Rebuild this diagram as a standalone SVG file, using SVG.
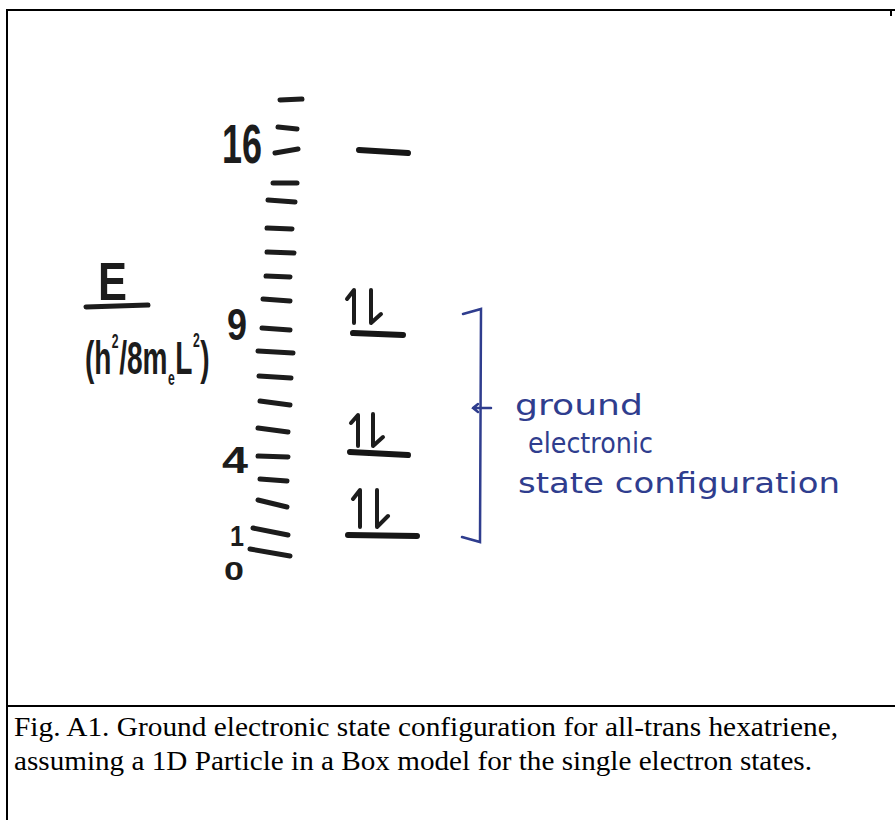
<svg xmlns="http://www.w3.org/2000/svg" width="895" height="820" viewBox="0 0 895 820">
  <style>
    .frame { stroke: #000; stroke-width: 2; fill: none; }
    .tick { stroke: #1c1c1c; stroke-width: 5; stroke-linecap: round; fill: none; }
    .level { stroke: #161616; stroke-width: 6; stroke-linecap: round; fill: none; }
    .spin { stroke: #1c1c1c; stroke-width: 4; stroke-linecap: round; stroke-linejoin: round; fill: none; }
    .hand { font-family: "Liberation Sans", "DejaVu Sans", sans-serif; fill: #1c1c1c; font-weight: bold; }
    .formula { font-family: "Liberation Sans", "DejaVu Sans", sans-serif; fill: #1c1c1c; font-weight: bold; font-size: 46px; }
    .small { font-size: 20px; }
    .blue { stroke: #2f3d8e; stroke-width: 2.5; stroke-linecap: round; fill: none; }
    .bluetext { font-family: "DejaVu Sans", "Liberation Sans", sans-serif; fill: #2f3d8e; font-size: 28px; }
    .caption { font-family: "Liberation Serif", "Times New Roman", serif; font-size: 28px; fill: #000; }
  </style>
  <rect width="895" height="820" fill="#ffffff"/>

  <g id="frame">
    <line class="frame" x1="6" y1="10" x2="895" y2="10"/>
    <line class="frame" x1="7" y1="9" x2="7" y2="820"/>
    <line class="frame" x1="891" y1="9" x2="891" y2="16"/>
    <line class="frame" x1="7" y1="706" x2="895" y2="706"/>
  </g>

  <g id="energy-axis">
    <path class="tick" d="M280,100 L302,99"/>
    <path class="tick" d="M278,127 L297,129"/>
    <path class="tick" d="M275,153 L298,149"/>
    <path class="tick" d="M273,183 L297,183"/>
    <path class="tick" d="M268,200 L295,202"/>
    <path class="tick" d="M267,228 L292,229"/>
    <path class="tick" d="M267,252 L294,253"/>
    <path class="tick" d="M266,276 L290,277"/>
    <path class="tick" d="M263,299 L290,301"/>
    <path class="tick" d="M262,328 L290,330"/>
    <path class="tick" d="M258,351 L293,353"/>
    <path class="tick" d="M259,376 L291,378"/>
    <path class="tick" d="M260,401 L290,405"/>
    <path class="tick" d="M258,428 L288,432"/>
    <path class="tick" d="M258,456 L288,457"/>
    <path class="tick" d="M260,479 L287,481"/>
    <path class="tick" d="M258,500 L287,507"/>
    <path class="tick" d="M253,528 L288,535"/>
    <path class="tick" d="M250,549 L290,556"/>
  </g>

  <g id="axis-numbers">
    <text class="hand" x="222" y="163" font-size="56" textLength="40" lengthAdjust="spacingAndGlyphs">16</text>
    <text class="hand" x="227" y="340" font-size="44" textLength="20" lengthAdjust="spacingAndGlyphs">9</text>
    <text class="hand" x="222" y="473" font-size="36" textLength="26" lengthAdjust="spacingAndGlyphs">4</text>
    <text class="hand" x="230" y="546" font-size="30" textLength="14" lengthAdjust="spacingAndGlyphs">1</text>
    <text class="hand" x="224" y="580" font-size="26" textLength="20" lengthAdjust="spacingAndGlyphs">0</text>
  </g>

  <g id="axis-label">
    <text class="hand" x="98" y="300" font-size="54" textLength="29" lengthAdjust="spacingAndGlyphs">E</text>
    <line class="tick" x1="86" y1="307" x2="148" y2="305" stroke-width="4"/>
    <g transform="translate(85,374) scale(0.61,1)">
      <text class="formula" x="0" y="0">(h</text>
      <text class="formula small" x="44" y="-26">2</text>
      <text class="formula" x="56" y="0">/8m</text>
      <text class="formula small" x="136" y="11">e</text>
      <text class="formula" x="148" y="0">L</text>
      <text class="formula small" x="177" y="-27">2</text>
      <text class="formula" x="189" y="0">)</text>
    </g>
  </g>

  <g id="level-16">
    <path class="level" d="M359,150 L408,153"/>
  </g>

  <g id="level-9">
    <path class="level" d="M353,333 L403,335"/>
    <path class="spin" d="M354,323 L354,290 L347,299"/>
    <path class="spin" d="M371,290 L371,323 L381,314"/>
  </g>

  <g id="level-4">
    <path class="level" d="M350,452 L408,455"/>
    <path class="spin" d="M358,446 L358,415 L351,423"/>
    <path class="spin" d="M373,414 L373,446 L383,437"/>
  </g>

  <g id="level-1">
    <path class="level" d="M348,535 L417,536"/>
    <path class="spin" d="M360,527 L360,490 L353,499"/>
    <path class="spin" d="M377,490 L377,527 L388,516"/>
  </g>

  <g id="connectors">
    <path class="blue" d="M463,314 L481,309 L480,542 L462,537"/>
    <path class="blue" d="M491,408 L473,408 M478,404 L473,408 L478,412"/>
  </g>

  <g id="annotation">
    <text class="bluetext" x="515" y="415" textLength="128" lengthAdjust="spacingAndGlyphs">ground</text>
    <text class="bluetext" x="528" y="453" textLength="125" lengthAdjust="spacingAndGlyphs">electronic</text>
    <text class="bluetext" x="518" y="493" textLength="322" lengthAdjust="spacingAndGlyphs">state configuration</text>
  </g>

  <g id="caption">
    <text class="caption" x="14" y="736" textLength="824" lengthAdjust="spacingAndGlyphs">Fig. A1. Ground electronic state configuration for all-trans hexatriene,</text>
    <text class="caption" x="14" y="770" textLength="798" lengthAdjust="spacingAndGlyphs">assuming a 1D Particle in a Box model for the single electron states.</text>
  </g>
</svg>
